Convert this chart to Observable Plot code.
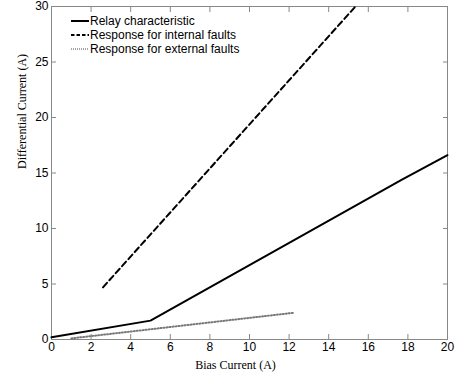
<!DOCTYPE html>
<html>
<head>
<meta charset="utf-8">
<script src="https://cdn.jsdelivr.net/npm/d3@7"></script>
<script src="https://cdn.jsdelivr.net/npm/@observablehq/plot@0.6"></script>
<style>
  html, body { margin: 0; padding: 0; background: #fff; }
  #chart svg { display: block; }
</style>
</head>
<body>
<div id="chart"></div>
<script>
// Relay characteristic (solid)
const relayX = [0, 5, 17.7, 20];
const relayY = [0.2, 1.7, 14.4, 16.6];
// Response for internal faults (dashed)
const internalX = [2.6, 15.35];
const internalY = [4.7, 30];
// Response for external faults (dotted)
const externalX = [1.0, 12.2];
const externalY = [0.1, 2.4];

const xTicks = [0, 2, 4, 6, 8, 10, 12, 14, 16, 18, 20];
const yTicks = [0, 5, 10, 15, 20, 25, 30];
const legendLabels = ["Relay characteristic", "Response for internal faults", "Response for external faults"];

const toRows = (xs, ys) => xs.map((x, i) => ({x, y: ys[i]}));
const relay = toRows(relayX, relayY);
const internal = toRows(internalX, internalY);
const external = toRows(externalX, externalY);

const sans = "'Liberation Sans', Arial, sans-serif";
const serif = "'Liberation Serif', 'Times New Roman', serif";

const plot = Plot.plot({
  width: 457,
  height: 377,
  marginLeft: 51,
  marginRight: 10,
  marginTop: 6,
  marginBottom: 38,
  style: {fontFamily: sans, fontSize: "12px", color: "#000", background: "#fff"},
  x: {domain: [0, 20]},
  y: {domain: [0, 30]},
  marks: [
    Plot.frame({stroke: "#888", strokeWidth: 1}),
    Plot.axisX({anchor: "bottom", ticks: xTicks, tickSize: -5, tickPadding: 8, label: null, stroke: "#888", fill: "#000", fontSize: 12}),
    Plot.axisX({anchor: "top", ticks: xTicks, tickSize: -5, tickFormat: () => "", label: null, stroke: "#888"}),
    Plot.axisY({anchor: "left", ticks: yTicks, tickSize: -5, tickPadding: 8, label: null, stroke: "#888", fill: "#000", fontSize: 12}),
    Plot.axisY({anchor: "right", ticks: yTicks, tickSize: -5, tickFormat: () => "", label: null, stroke: "#888"}),
    Plot.line(external, {x: "x", y: "y", stroke: "#777", strokeWidth: 2, strokeDasharray: "1,2"}),
    Plot.line(internal, {x: "x", y: "y", stroke: "#000", strokeWidth: 2, strokeDasharray: "6,3.5"}),
    Plot.line(relay, {x: "x", y: "y", stroke: "#000", strokeWidth: 2}),
    Plot.text(["Bias Current (A)"], {frameAnchor: "bottom", dx: -14, dy: 26, lineAnchor: "middle", fontFamily: serif, fontSize: 12, fill: "#000"}),
    Plot.text(["Differential Current (A)"], {frameAnchor: "left", dx: -29, dy: -4, rotate: -90, fontFamily: serif, fontSize: 12, fill: "#000"})
  ]
});

document.getElementById("chart").appendChild(plot);

// Legend inside the plot area (top-left)
const svg = d3.select(plot);
const styles = [
  {stroke: "#000", dash: null},
  {stroke: "#000", dash: "3.5,2"},
  {stroke: "#888", dash: "1,1"}
];
const lg = svg.append("g").attr("class", "legend").attr("text-anchor", "start");
legendLabels.forEach((label, i) => {
  const y = 21 + i * 14;
  lg.append("line")
    .attr("x1", 71).attr("x2", 89).attr("y1", y).attr("y2", y)
    .attr("stroke", styles[i].stroke).attr("stroke-width", i === 2 ? 1.5 : 2)
    .attr("stroke-dasharray", styles[i].dash);
  lg.append("text")
    .attr("x", 90).attr("y", y).attr("dy", "0.35em")
    .attr("text-anchor", "start")
    .attr("font-family", sans).attr("font-size", 12).attr("fill", "#000")
    .text(label);
});
</script>
</body>
</html>
